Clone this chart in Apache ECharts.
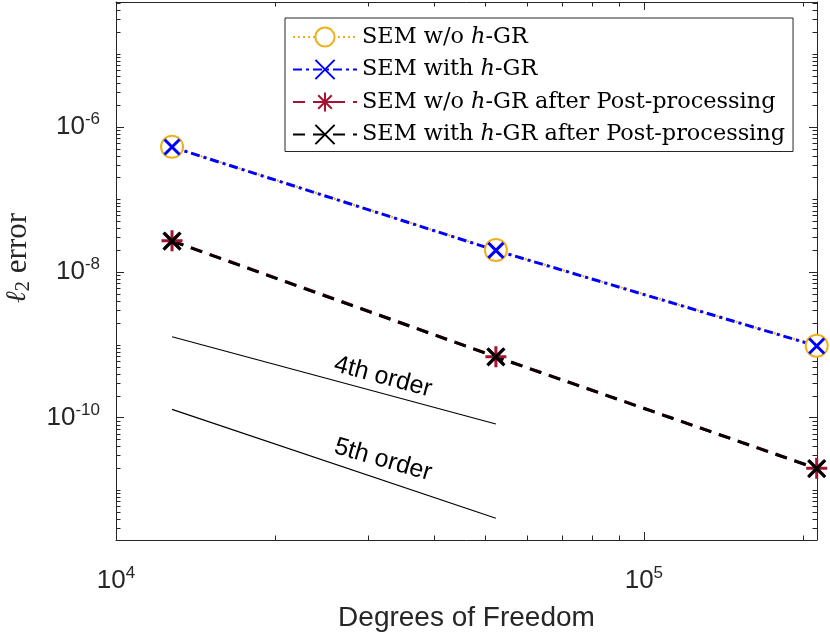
<!DOCTYPE html>
<html>
<head>
<meta charset="utf-8">
<script src="https://cdn.jsdelivr.net/npm/echarts@6/dist/echarts.min.js"></script>
<style>
  html, body { margin: 0; padding: 0; background: #fff; }
  #chart { width: 830px; height: 632px; }
</style>
</head>
<body>
<div id="chart"></div>
<script>
// degrees of freedom and l2 errors
var dof = [12769, 52441, 212521];
var errNoGR = [5.31e-7, 2.02e-8, 9.77e-10];
var errGR = [5.28e-7, 2.0e-8, 9.7e-10];
var errNoGRPost = [2.71e-8, 6.9e-10, 2.01e-11];
var errGRPost = [2.68e-8, 6.85e-10, 2.0e-11];

// slope guides
var refDof = [12769, 52441];
var ref4th = [1.30e-9, 8.2e-11];
var ref5th = [1.30e-10, 4.14e-12];

// tick labels
var xLabels = [1e4, 1e5];
var yLabels = [1e-6, 1e-8, 1e-10];

var xMin = 1e4, xMax = 2.128e5;
var yMin = 2.08e-12, yMax = 5.22e-5;

function minorTicks(lo, hi, e0, e1, majors) {
  var out = [];
  for (var e = e0; e <= e1; e++) {
    for (var k = 1; k <= 9; k++) {
      var v = k * Math.pow(10, e);
      if (v >= lo && v <= hi && majors.indexOf(v) < 0) out.push(v);
    }
  }
  return out;
}
var xMinor = minorTicks(xMin, xMax, 4, 5, xLabels);
var yMinor = minorTicks(yMin, yMax, -12, -5, yLabels);

var axisColor = '#262626';
var tickFont = 'Liberation Sans, Arial, Helvetica, sans-serif';
var serif = 'Liberation Serif, Times New Roman, serif';
var legendFont = 'DejaVu Serif, serif';

function pow10(v) {
  return '10{s|' + Math.round(Math.log10(v)) + '}';
}

function makeAxis(pos, lo, hi, ticks, len, labels, extra) {
  var ax = {
    type: 'log',
    logBase: 10,
    position: pos,
    min: lo,
    max: hi,
    splitLine: { show: false },
    axisLine: { show: !!labels || extra === 'line', lineStyle: { color: axisColor, width: 1 } },
    axisTick: { show: true, inside: true, length: len, customValues: ticks,
                lineStyle: { color: axisColor, width: 1 } },
    axisLabel: { show: false }
  };
  if (labels) {
    ax.axisLabel = {
      show: true,
      customValues: labels,
      formatter: pow10,
      color: '#262626',
      fontFamily: tickFont,
      fontSize: 26,
      margin: pos === 'left' ? 16 : 25,
      rich: {
        s: { fontSize: 17, fontFamily: tickFont, color: '#262626', padding: [0, 0, 15, 0] }
      }
    };
  }
  return ax;
}

var xAxes = [
  makeAxis('bottom', xMin, xMax, xLabels, 8, xLabels),
  makeAxis('bottom', xMin, xMax, xMinor, 4.5, null),
  makeAxis('top', xMin, xMax, xLabels, 8, null, 'line'),
  makeAxis('top', xMin, xMax, xMinor, 4.5, null)
];
xAxes[0].name = 'Degrees of Freedom';
xAxes[0].nameLocation = 'middle';
xAxes[0].nameGap = 64;
xAxes[0].nameTextStyle = { color: '#262626', fontFamily: tickFont, fontSize: 28 };

var yAxes = [
  makeAxis('left', yMin, yMax, yLabels, 8, yLabels),
  makeAxis('left', yMin, yMax, yMinor, 4.5, null),
  makeAxis('right', yMin, yMax, yLabels, 8, null, 'line'),
  makeAxis('right', yMin, yMax, yMinor, 4.5, null)
];
yAxes[0].name = '{l|ℓ}{sub|2} error';
yAxes[0].nameLocation = 'middle';
yAxes[0].nameGap = 82;
yAxes[0].nameTextStyle = {
  color: '#262626', fontFamily: serif, fontSize: 31,
  padding: [0, 0, 0, 26],
  rich: {
    l: { fontFamily: 'DejaVu Serif', fontStyle: 'italic', fontSize: 28, color: '#262626' },
    sub: { fontFamily: serif, fontSize: 21, color: '#262626', padding: [11, 0, 0, 0] }
  }
};

function pairs(xs, ys) {
  return xs.map(function (x, i) { return [x, ys[i]]; });
}

var xPath = 'path://M0,0L10,10M10,0L0,10';
var starPath = 'path://M5,0L5,10M0,5L10,5M1.46,1.46L8.54,8.54M8.54,1.46L1.46,8.54';

var names = [
  'SEM w/o {i|h}-GR',
  'SEM with {i|h}-GR',
  'SEM w/o {i|h}-GR after Post-processing',
  'SEM with {i|h}-GR after Post-processing'
];

var series = [
  {
    name: names[0], type: 'line', data: pairs(dof, errNoGR),
    symbol: 'emptyCircle', symbolSize: 22,
    lineStyle: { color: '#EDB120', width: 2, type: [2, 3] },
    itemStyle: { color: '#EDB120', borderColor: '#EDB120', borderWidth: 2.5 }
  },
  {
    name: names[1], type: 'line', data: pairs(dof, errGR),
    symbol: xPath, symbolSize: 15,
    lineStyle: { color: '#0000FF', width: 3, type: [9, 4, 3, 4] },
    itemStyle: { color: 'rgba(0,0,0,0)', borderColor: '#0000FF', borderWidth: 3 }
  },
  {
    name: names[2], type: 'line', data: pairs(dof, errNoGRPost),
    symbol: starPath, symbolSize: 21,
    lineStyle: { color: '#A2142F', width: 3, type: [12, 8] },
    itemStyle: { color: 'rgba(0,0,0,0)', borderColor: '#A2142F', borderWidth: 3 }
  },
  {
    name: names[3], type: 'line', data: pairs(dof, errGRPost),
    symbol: xPath, symbolSize: 17,
    lineStyle: { color: '#000000', width: 3, type: [12, 8] },
    itemStyle: { color: 'rgba(0,0,0,0)', borderColor: '#000000', borderWidth: 3.2 }
  },
  {
    name: '4th', type: 'line', data: pairs(refDof, ref4th),
    symbol: 'none', lineStyle: { color: '#000', width: 1.2 },
    markPoint: {
      symbol: 'circle', symbolSize: 0,
      label: { show: true, formatter: '4th order', rotate: -15, color: '#000',
               fontFamily: tickFont, fontSize: 25, position: 'inside' },
      data: [{ coord: [32040, 3.63e-10] }]
    }
  },
  {
    name: '5th', type: 'line', data: pairs(refDof, ref5th),
    symbol: 'none', lineStyle: { color: '#000', width: 1.2 },
    markPoint: {
      symbol: 'circle', symbolSize: 0,
      label: { show: true, formatter: '5th order', rotate: -16, color: '#000',
               fontFamily: tickFont, fontSize: 25, position: 'inside' },
      data: [{ coord: [32040, 2.62e-11] }]
    }
  }
];

var chart = echarts.init(document.getElementById('chart'), null, { renderer: 'canvas' });
chart.setOption({
  backgroundColor: '#fff',
  animation: false,
  grid: { left: 116, top: 2, width: 701, height: 538, containLabel: false, outerBoundsMode: 'none' },
  xAxis: xAxes,
  yAxis: yAxes,
  legend: {
    data: names,
    orient: 'vertical',
    left: 285, top: 18,
    itemWidth: 64, itemHeight: 24, itemGap: 10.5,
    padding: [8, 8, 6, 7],
    borderColor: '#262626', borderWidth: 1,
    backgroundColor: '#fff',
    selectedMode: false,
    textStyle: {
      color: '#000', fontFamily: legendFont, fontSize: 22.4,
      rich: { i: { fontFamily: legendFont, fontStyle: 'italic', fontSize: 22.4, color: '#000' } }
    }
  },
  series: series
});
</script>
</body>
</html>
